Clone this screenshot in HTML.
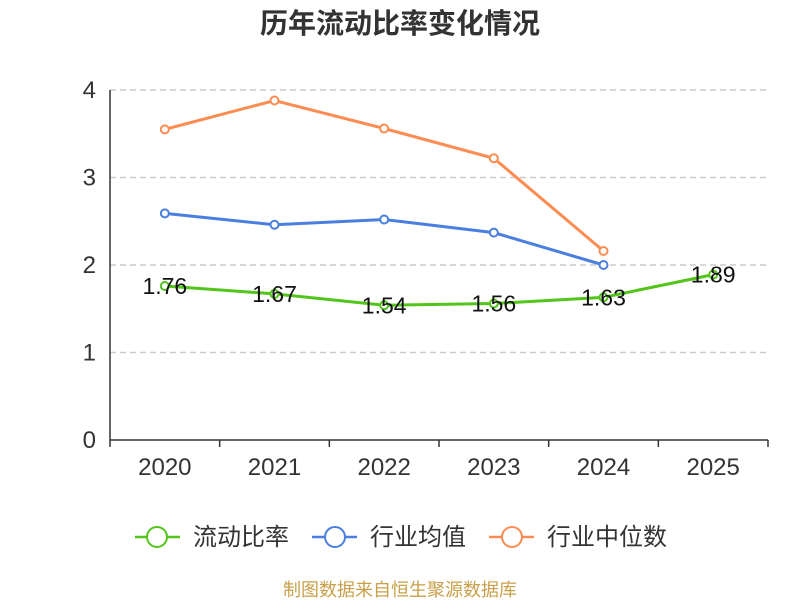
<!DOCTYPE html>
<html><head><meta charset="utf-8"><style>
body{margin:0;background:#fff;}
svg{font-family:"Liberation Sans","Noto Sans CJK SC",sans-serif;}
</style></head><body>
<svg id="c" width="800" height="600">
<text x="400" y="33" text-anchor="middle" font-size="28" font-weight="bold" fill="#333">历年流动比率变化情况</text>
<g id="grid"></g><g id="axes"></g><g id="series"></g>
<g>
<g><line x1="135" y1="537" x2="180" y2="537" stroke="#52c41a" stroke-width="2.5"/><circle cx="157" cy="537" r="10" fill="#fff" stroke="#52c41a" stroke-width="2"/><text x="193" y="545" font-size="24" fill="#333">流动比率</text></g>
<g><line x1="312" y1="537" x2="357" y2="537" stroke="#4a7fe0" stroke-width="2.5"/><circle cx="335" cy="537" r="10" fill="#fff" stroke="#4a7fe0" stroke-width="2"/><text x="370" y="545" font-size="24" fill="#333">行业均值</text></g>
<g><line x1="489" y1="537" x2="534" y2="537" stroke="#fc8c52" stroke-width="2.5"/><circle cx="512" cy="537" r="10" fill="#fff" stroke="#fc8c52" stroke-width="2"/><text x="547" y="545" font-size="24" fill="#333">行业中位数</text></g>
</g>
<text x="400" y="596" text-anchor="middle" font-size="18" fill="#c9a04a">制图数据来自恒生聚源数据库</text>
</svg>
<script>
const categories=["2020","2021","2022","2023","2024","2025"];
const ratio=[1.76,1.67,1.54,1.56,1.63,1.89];
const industryAvg=[2.59,2.46,2.52,2.37,2.00];
const industryMedian=[3.55,3.88,3.56,3.22,2.16];
const yTicks=[0,1,2,3,4];
const NS="http://www.w3.org/2000/svg";
const L=110,R=768,T=90,B=440;
const x=i=>L+(R-L)/categories.length*(i+0.5);
const y=v=>B-(B-T)*v/4;
function mk(tag,attrs,parent){const e=document.createElementNS(NS,tag);for(const k in attrs)e.setAttribute(k,attrs[k]);parent.appendChild(e);return e;}
const grid=document.getElementById('grid'),axes=document.getElementById('axes'),series=document.getElementById('series');
yTicks.forEach(t=>{
 if(t>0){const g=mk('line',{x1:L,x2:R,y1:y(t),y2:y(t),stroke:'#ccc','stroke-dasharray':'6,4','stroke-width':1.5},grid);
 
 }
 const tx=mk('text',{x:96,y:y(t)+8,'text-anchor':'end','font-size':24,fill:'#333'},axes);tx.textContent=t;
 
 
});
const ax=mk('line',{x1:L,x2:R,y1:B,y2:B,stroke:'#333','stroke-width':1.5},axes);


const ay=mk('line',{x1:L,x2:L,y1:T,y2:B,stroke:'#333','stroke-width':1.5},axes);


for(let i=0;i<=categories.length;i++){const tk=mk('line',{x1:L+(R-L)/categories.length*i,x2:L+(R-L)/categories.length*i,y1:B,y2:B+7,stroke:'#333','stroke-width':1.5},axes);
 
 }
categories.forEach((c,i)=>{const t=mk('text',{x:x(i),y:B+35,'text-anchor':'middle','font-size':24,fill:'#333'},axes);t.textContent=c;
 
 });
function draw(vals,color,name,labels){
 const p=mk('polyline',{points:vals.map((v,i)=>x(i)+','+y(v)).join(' '),fill:'none',stroke:color,'stroke-width':3},series);
 
 
 vals.forEach((v,i)=>{const c=mk('circle',{cx:x(i),cy:y(v),r:4,fill:'#fff',stroke:color,'stroke-width':2},series);
  
  
  if(labels){const t=mk('text',{x:x(i),y:y(v)+8,'text-anchor':'middle','font-size':23,fill:'#111'},series);t.textContent=v.toFixed(2);
   
   }
 });
}
draw(industryMedian,'#fc8c52','industry-median',false);
draw(industryAvg,'#4a7fe0','industry-average',false);
draw(ratio,'#52c41a','current-ratio',true);
</script>
</body></html>
